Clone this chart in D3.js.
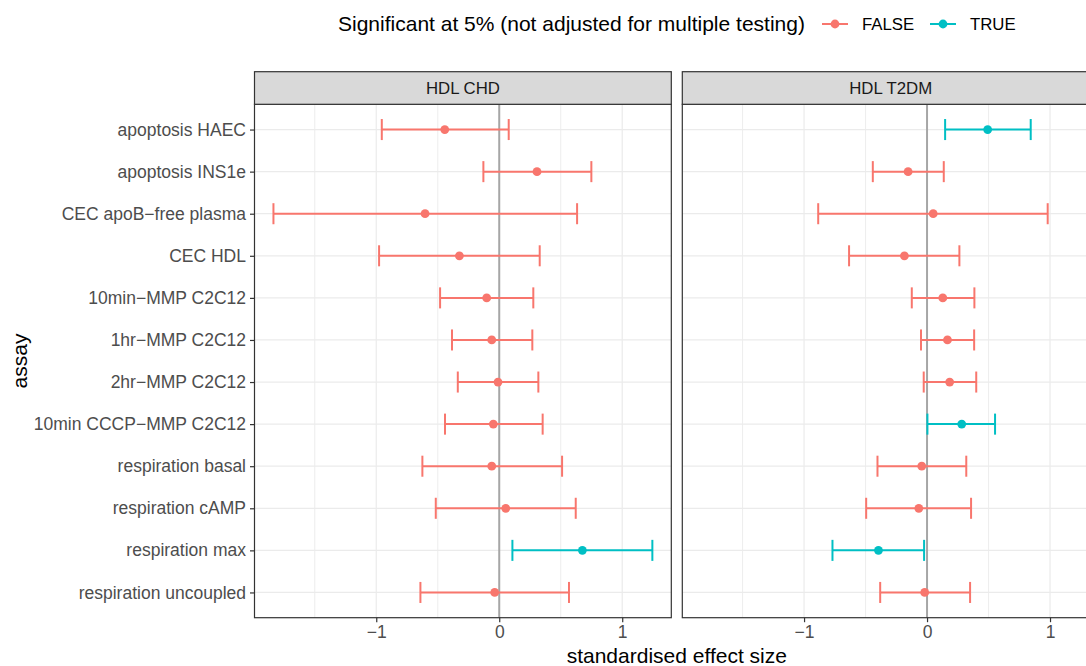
<!DOCTYPE html>
<html>
<head>
<meta charset="utf-8">
<script src="https://cdn.jsdelivr.net/npm/d3@7"></script>
<style>
  html, body { margin: 0; padding: 0; background: #fff; overflow: hidden; }
  svg { display: block; font-family: "Liberation Sans", Arial, Helvetica, sans-serif; }
</style>
</head>
<body>
<svg id="chart" width="1086" height="666"></svg>
<script>
// Assays, top to bottom
const assays = [
  "apoptosis HAEC", "apoptosis INS1e", "CEC apoB\u2212free plasma", "CEC HDL",
  "10min\u2212MMP C2C12", "1hr\u2212MMP C2C12", "2hr\u2212MMP C2C12", "10min CCCP\u2212MMP C2C12",
  "respiration basal", "respiration cAMP", "respiration max", "respiration uncoupled"
];

const panels = ["HDL CHD", "HDL T2DM"];

// Standardised effect sizes with 95% CI: HDL CHD
const chdEst = [-0.443, 0.307, -0.603, -0.324, -0.102, -0.061, -0.010, -0.048, -0.061, 0.053, 0.676, -0.037];
const chdLo  = [-0.955, -0.129, -1.836, -0.977, -0.481, -0.384, -0.337, -0.441, -0.625, -0.516, 0.107, -0.641];
const chdHi  = [0.077, 0.749, 0.633, 0.329, 0.277, 0.269, 0.318, 0.353, 0.511, 0.622, 1.245, 0.567];

// Standardised effect sizes with 95% CI: HDL T2DM
const t2dmEst = [0.493, -0.154, 0.050, -0.184, 0.128, 0.166, 0.184, 0.282, -0.043, -0.067, -0.395, -0.019];
const t2dmLo  = [0.147, -0.441, -0.885, -0.634, -0.124, -0.049, -0.027, 0.003, -0.403, -0.495, -0.769, -0.381];
const t2dmHi  = [0.843, 0.136, 0.981, 0.263, 0.385, 0.383, 0.400, 0.553, 0.319, 0.358, -0.024, 0.350];

const xTicks = [-1, 0, 1];
const xTickLabels = ["\u22121", "0", "1"];
const xMinor = [-1.5, -0.5, 0.5, 1.5];
const legendLevels = ["FALSE", "TRUE"];

const rows = [];
assays.forEach((a, i) => {
  rows.push({ panel: panels[0], assay: a, est: chdEst[i], lo: chdLo[i], hi: chdHi[i] });
  rows.push({ panel: panels[1], assay: a, est: t2dmEst[i], lo: t2dmLo[i], hi: t2dmHi[i] });
});
rows.forEach(d => { d.sig = (d.lo > 0 || d.hi < 0) ? "TRUE" : "FALSE"; });

const color = d3.scaleOrdinal().domain(legendLevels).range(["#F8766D", "#00BFC4"]);

// Layout
const panelW = 416.8, panelGap = 11;
const panelX0 = 254.5;
const stripTop = 71.7, stripBottom = 104.3, panelBottom = 617.7;
const axisFont = 17.5;

// Shared x domain with 5% expansion
const lo = d3.min(rows, d => d.lo), hi = d3.max(rows, d => d.hi);
const pad = (hi - lo) * 0.05;
const xDomain = [lo - pad, hi + pad];

const y = d3.scalePoint().domain(assays).range([stripBottom, panelBottom]).padding(0.6);
const capHalf = y.step() * 0.25;

const svg = d3.select("#chart");

panels.forEach((p, pi) => {
  const left = panelX0 + pi * (panelW + panelGap);
  const x = d3.scaleLinear().domain(xDomain).range([left, left + panelW]);
  const g = svg.append("g");

  // panel background
  g.append("rect").attr("x", left).attr("y", stripBottom)
    .attr("width", panelW).attr("height", panelBottom - stripBottom).attr("fill", "#fff");

  // minor grid
  g.selectAll(".minor").data(xMinor.filter(v => v > xDomain[0] && v < xDomain[1])).join("line")
    .attr("x1", d => x(d)).attr("x2", d => x(d))
    .attr("y1", stripBottom).attr("y2", panelBottom)
    .attr("stroke", "#EBEBEB").attr("stroke-width", 0.9);
  // major grid
  g.selectAll(".majx").data(xTicks).join("line")
    .attr("x1", d => x(d)).attr("x2", d => x(d))
    .attr("y1", stripBottom).attr("y2", panelBottom)
    .attr("stroke", "#EBEBEB").attr("stroke-width", 1.2);
  g.selectAll(".majy").data(assays).join("line")
    .attr("x1", left).attr("x2", left + panelW)
    .attr("y1", d => y(d)).attr("y2", d => y(d))
    .attr("stroke", "#EBEBEB").attr("stroke-width", 1.2);

  // zero reference line
  g.append("line").attr("x1", x(0)).attr("x2", x(0))
    .attr("y1", stripBottom).attr("y2", panelBottom)
    .attr("stroke", "#A6A6A6").attr("stroke-width", 2);

  const pr = rows.filter(d => d.panel === p);
  const eb = g.selectAll(".eb").data(pr).join("g").attr("stroke", d => color(d.sig))
    .attr("stroke-width", 2).attr("fill", "none");
  eb.append("line").attr("x1", d => x(d.lo)).attr("x2", d => x(d.hi))
    .attr("y1", d => y(d.assay)).attr("y2", d => y(d.assay));
  eb.append("line").attr("x1", d => x(d.lo)).attr("x2", d => x(d.lo))
    .attr("y1", d => y(d.assay) - capHalf).attr("y2", d => y(d.assay) + capHalf);
  eb.append("line").attr("x1", d => x(d.hi)).attr("x2", d => x(d.hi))
    .attr("y1", d => y(d.assay) - capHalf).attr("y2", d => y(d.assay) + capHalf);
  g.selectAll(".pt").data(pr).join("circle")
    .attr("cx", d => x(d.est)).attr("cy", d => y(d.assay)).attr("r", 4.4)
    .attr("fill", d => color(d.sig));

  // panel border
  g.append("rect").attr("x", left).attr("y", stripBottom)
    .attr("width", panelW).attr("height", panelBottom - stripBottom)
    .attr("fill", "none").attr("stroke", "#333333").attr("stroke-width", 1.2);

  // strip
  g.append("rect").attr("x", left).attr("y", stripTop)
    .attr("width", panelW).attr("height", stripBottom - stripTop)
    .attr("fill", "#D9D9D9").attr("stroke", "#333333").attr("stroke-width", 1.2);
  g.append("text").attr("x", left + panelW / 2).attr("y", (stripTop + stripBottom) / 2)
    .attr("dy", "0.35em").attr("text-anchor", "middle")
    .attr("font-size", 16.8).attr("fill", "#1A1A1A").text(p);

  // x axis
  const xa = g.append("g").attr("transform", `translate(0,${panelBottom})`)
    .call(d3.axisBottom(x).tickValues(xTicks).tickFormat((d, i) => xTickLabels[i])
      .tickSize(4.5).tickPadding(3.5));
  xa.select(".domain").remove();
  xa.selectAll(".tick line").attr("stroke", "#333333").attr("stroke-width", 1.2);
  xa.selectAll(".tick text").attr("font-size", axisFont).attr("fill", "#4D4D4D")
    .attr("font-family", "Liberation Sans, Arial, sans-serif");

  if (pi === 0) {
    const ya = g.append("g").attr("transform", `translate(${left},0)`)
      .call(d3.axisLeft(y).tickSize(4.5).tickPadding(4));
    ya.select(".domain").remove();
    ya.selectAll(".tick line").attr("stroke", "#333333").attr("stroke-width", 1.2);
    ya.selectAll(".tick text").attr("font-size", axisFont).attr("fill", "#4D4D4D")
      .attr("font-family", "Liberation Sans, Arial, sans-serif");
  }
});

// axis titles
svg.append("text").attr("x", 676.8).attr("y", 662.5).attr("text-anchor", "middle")
  .attr("font-size", 21).attr("fill", "#000").text("standardised effect size");
svg.append("text").attr("transform", `translate(27,${(stripBottom + panelBottom) / 2}) rotate(-90)`)
  .attr("text-anchor", "middle").attr("font-size", 21).attr("fill", "#000").text("assay");

// legend
const leg = svg.append("g");
leg.append("text").attr("x", 338).attr("y", 31).attr("font-size", 21).attr("fill", "#000")
  .text("Significant at 5% (not adjusted for multiple testing)");
const keyX = [822, 930];
legendLevels.forEach((lv, i) => {
  const kx = keyX[i];
  leg.append("line").attr("x1", kx).attr("x2", kx + 26).attr("y1", 24).attr("y2", 24)
    .attr("stroke", color(lv)).attr("stroke-width", 2);
  leg.append("circle").attr("cx", kx + 13).attr("cy", 24).attr("r", 4.4).attr("fill", color(lv));
  leg.append("text").attr("x", kx + 40).attr("y", 30).attr("font-size", 16.8).attr("fill", "#000").text(lv);
});
</script>
</body>
</html>
